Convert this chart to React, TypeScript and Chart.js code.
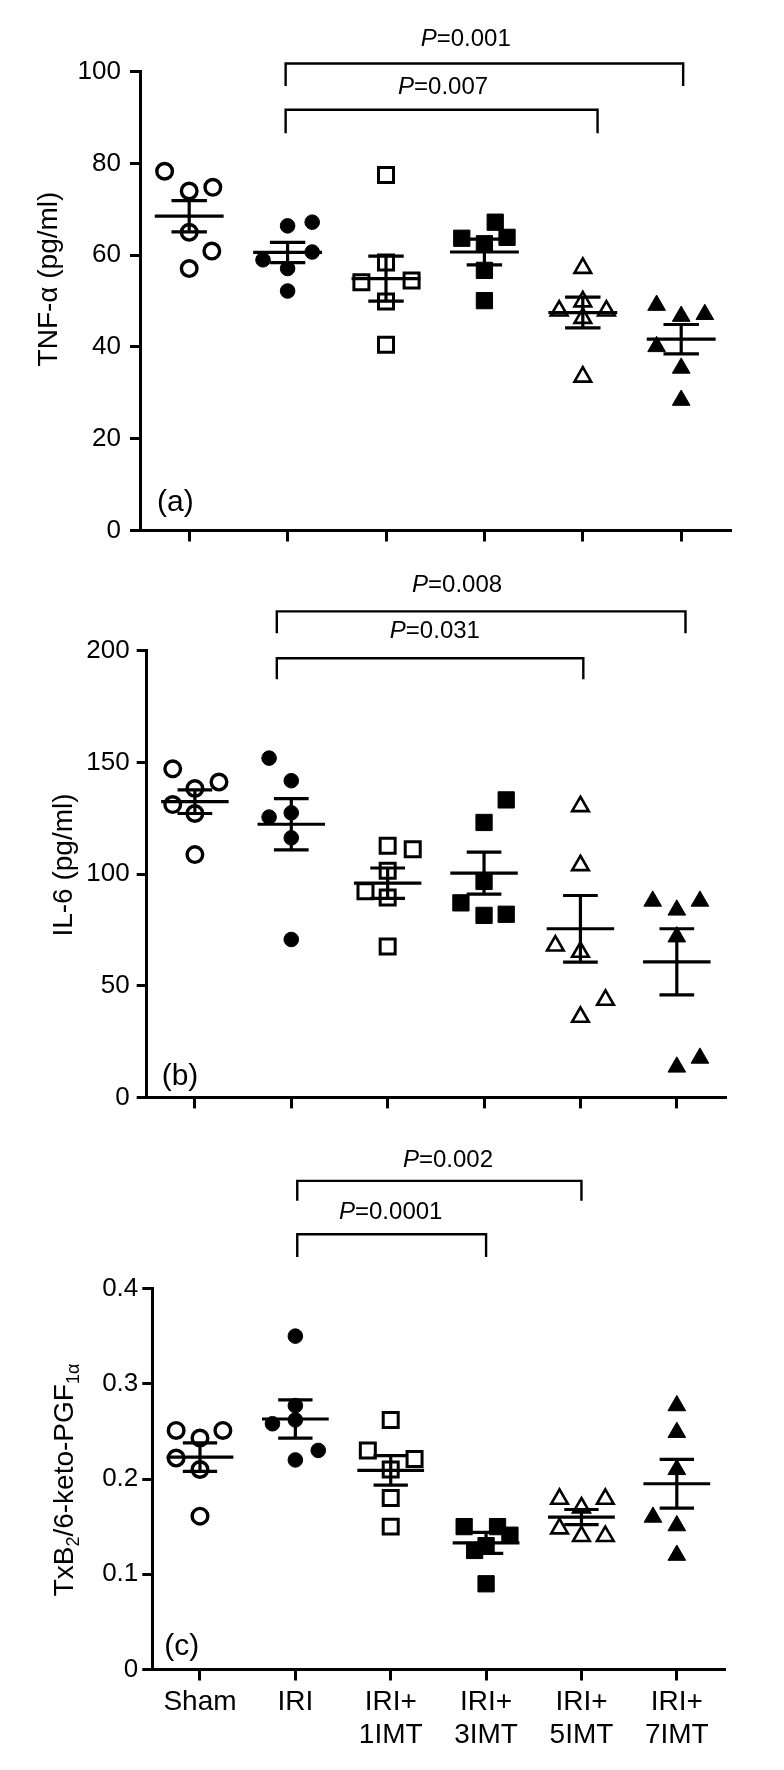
import React, { useEffect, useRef } from 'react';
import { Chart, registerables } from 'chart.js';

Chart.register(...registerables);

const FONT = '"Liberation Sans", Arial, Helvetica, sans-serif';

// ---------- shared categories ----------
const categories: string[][] = [
  ['Sham'],
  ['IRI'],
  ['IRI+', '1IMT'],
  ['IRI+', '3IMT'],
  ['IRI+', '5IMT'],
  ['IRI+', '7IMT'],
];

// ---------- panel (a) TNF-α ----------
const tnfTicks = [0, 20, 40, 60, 80, 100];
const tnfValues = [
  [78.3, 74.0, 74.8, 65.0, 60.9, 57.1],
  [66.4, 67.2, 59.0, 60.7, 57.1, 52.2],
  [77.5, 58.4, 54.1, 54.5, 49.9, 40.5],
  [63.7, 67.2, 63.9, 62.5, 56.7, 50.1],
  [57.2, 47.9, 49.9, 47.9, 46.3, 33.5],
  [49.1, 46.7, 47.1, 40.1, 35.4, 28.4],
];
const tnfJitter = [
  [-0.25, 0, 0.24, 0, 0.23, 0],
  [0, 0.25, -0.25, 0.25, 0, 0],
  [0, 0, -0.25, 0.26, 0, 0],
  [-0.23, 0.11, 0.23, 0, 0, 0],
  [0, -0.24, 0, 0.24, 0, 0],
  [-0.25, 0, 0.24, -0.25, 0, 0],
];
const tnfMeans = [68.5, 60.6, 54.9, 60.7, 47.5, 41.7];
const tnfSems = [3.4, 2.2, 4.9, 2.8, 3.35, 3.2];
const tnfBrackets = [
  { from: 0.98, to: 5.02, top: 101.8, drop: 96.9, p: '0.001', labelX: 2.81, labelY: 107.1 },
  { from: 0.98, to: 4.15, top: 91.7, drop: 86.6, p: '0.007', labelX: 2.58, labelY: 96.6 },
];

// ---------- panel (b) IL-6 ----------
const il6Ticks = [0, 50, 100, 150, 200];
const il6Values = [
  [147.1, 138.3, 141.2, 131.1, 127.1, 108.7],
  [151.9, 141.8, 125.5, 127.4, 116.2, 70.7],
  [112.7, 111.1, 101.5, 92.3, 89.5, 67.6],
  [133.2, 123.1, 96.7, 87.1, 81.5, 82.0],
  [130.3, 103.9, 67.9, 65.1, 36.0, 43.6],
  [87.9, 83.9, 87.9, 71.9, 13.6, 17.6],
];
const il6Jitter = [
  [-0.23, 0, 0.25, -0.23, 0, 0],
  [-0.23, 0, -0.23, 0, 0, 0],
  [0, 0.26, 0, -0.23, 0, 0],
  [0.23, 0, 0, -0.24, 0, 0.23],
  [0, 0, -0.26, 0, 0, 0.26],
  [-0.25, 0, 0.24, 0, 0, 0.24],
];
const il6Means = [132.4, 122.3, 95.9, 100.4, 75.5, 60.7];
const il6Sems = [5.3, 11.5, 6.8, 9.4, 14.9, 14.8];
const il6Brackets = [
  { from: 0.85, to: 5.09, top: 217.6, drop: 207.8, p: '0.008', labelX: 2.72, labelY: 229.1 },
  { from: 0.85, to: 4.03, top: 196.6, drop: 187.2, p: '0.031', labelX: 2.49, labelY: 208.6 },
];

// ---------- panel (c) TxB2/6-keto-PGF1α ----------
const txbTicks = [0, 0.1, 0.2, 0.3, 0.4];
const txbValues = [
  [0.251, 0.243, 0.251, 0.222, 0.21, 0.161],
  [0.35, 0.277, 0.258, 0.262, 0.23, 0.22],
  [0.262, 0.23, 0.221, 0.21, 0.18, 0.15],
  [0.15, 0.15, 0.141, 0.13, 0.125, 0.09],
  [0.179, 0.17, 0.179, 0.148, 0.14, 0.14],
  [0.277, 0.249, 0.21, 0.16, 0.151, 0.12],
];
const txbJitter = [
  [-0.25, 0, 0.24, -0.25, 0, 0],
  [0, 0, -0.24, 0, 0.24, 0],
  [0, -0.24, 0.25, 0, 0, 0],
  [-0.23, 0.12, 0.25, 0, -0.12, 0],
  [-0.23, 0, 0.25, -0.23, 0, 0.25],
  [0, 0, 0, -0.25, 0, 0],
];
const txbMeans = [0.223, 0.263, 0.209, 0.133, 0.16, 0.195];
const txbSems = [0.015, 0.02, 0.0155, 0.011, 0.008, 0.0255];
const txbBrackets = [
  { from: 1.02, to: 4.0, top: 0.513, drop: 0.492, p: '0.002', labelX: 2.6, labelY: 0.535 },
  { from: 1.02, to: 3.0, top: 0.457, drop: 0.433, p: '0.0001', labelX: 2.0, labelY: 0.48 },
];

// ---------- marker styles per group ----------
const markerStyles = [
  { shape: 'circle', filled: false, radius: 7.8, border: 3.4 },
  { shape: 'circle', filled: true, radius: 7.3, border: 1 },
  { shape: 'rect', filled: false, radius: 10.6, border: 3 },
  { shape: 'rect', filled: true, radius: 11.5, border: 1 },
  { shape: 'triangle', filled: false, radius: 9.6, border: 2.6 },
  { shape: 'triangle', filled: true, radius: 10.2, border: 1 },
];

type TitlePart = { text: string; sub?: boolean };

const panels = [
  {
    id: 'a', top: 0, height: 560, padTop: 71.7, padRight: 53.6, axisLeft: 140, xAxisHeight: 29.5,
    yMax: 100, yTicks: tnfTicks, values: tnfValues, jitter: tnfJitter, means: tnfMeans, sems: tnfSems,
    brackets: tnfBrackets, showCategories: false, tickPad: 9,
    title: [{ text: 'TNF-α (pg/ml)' }] as TitlePart[], titleX: 57, titleY: 279,
    letter: '(a)', letterDX: 17, letterDY: 27.5,
  },
  {
    id: 'b', top: 560, height: 560, padTop: 90.7, padRight: 59, axisLeft: 146.7, xAxisHeight: 22.5,
    yMax: 200, yTicks: il6Ticks, values: il6Values, jitter: il6Jitter, means: il6Means, sems: il6Sems,
    brackets: il6Brackets, showCategories: false, tickPad: 7,
    title: [{ text: 'IL-6 (pg/ml)' }] as TitlePart[], titleX: 72, titleY: 305,
    letter: '(b)', letterDX: 15, letterDY: 21,
  },
  {
    id: 'c', top: 1120, height: 650, padTop: 168.5, padRight: 59.5, axisLeft: 152.3, xAxisHeight: 100.5,
    yMax: 0.4, yTicks: txbTicks, values: txbValues, jitter: txbJitter, means: txbMeans, sems: txbSems,
    brackets: txbBrackets, showCategories: true, tickPad: 4,
    title: [
      { text: 'TxB' }, { text: '2', sub: true }, { text: '/6-keto-PGF' }, { text: '1α', sub: true },
    ] as TitlePart[], titleX: 73, titleY: 360,
    letter: '(c)', letterDX: 12, letterDY: 22.5,
  },
];

function decorPlugin(p: any) {
  return {
    id: 'decor_' + p.id,
    afterDatasetsDraw(chart: any) {
      const ctx = chart.ctx;
      const x = chart.scales.x;
      const y = chart.scales.y;
      const area = chart.chartArea;
      ctx.save();
      ctx.strokeStyle = '#000';
      ctx.fillStyle = '#000';
      ctx.lineCap = 'butt';

      // mean ± SEM
      ctx.lineWidth = 3.2;
      p.means.forEach((m: number, i: number) => {
        const s = p.sems[i];
        const yc = y.getPixelForValue(m);
        const yt = y.getPixelForValue(m + s);
        const yb = y.getPixelForValue(m - s);
        const xl = x.getPixelForValue(i - 0.35);
        const xr = x.getPixelForValue(i + 0.35);
        const cl = x.getPixelForValue(i - 0.18);
        const cr = x.getPixelForValue(i + 0.18);
        const xc = x.getPixelForValue(i);
        ctx.beginPath();
        ctx.moveTo(xl, yc); ctx.lineTo(xr, yc);
        ctx.moveTo(cl, yt); ctx.lineTo(cr, yt);
        ctx.moveTo(cl, yb); ctx.lineTo(cr, yb);
        ctx.moveTo(xc, yt); ctx.lineTo(xc, yb);
        ctx.stroke();
      });

      // significance brackets
      ctx.lineWidth = 2.4;
      ctx.lineJoin = 'miter';
      p.brackets.forEach((b: any) => {
        const x1 = x.getPixelForValue(b.from);
        const x2 = x.getPixelForValue(b.to);
        const yt = y.getPixelForValue(b.top);
        const yd = y.getPixelForValue(b.drop);
        ctx.beginPath();
        ctx.moveTo(x1, yd); ctx.lineTo(x1, yt); ctx.lineTo(x2, yt); ctx.lineTo(x2, yd);
        ctx.stroke();
        const tx = x.getPixelForValue(b.labelX);
        const ty = y.getPixelForValue(b.labelY);
        ctx.textBaseline = 'middle';
        ctx.textAlign = 'left';
        ctx.font = `italic 24px ${FONT}`;
        const wP = ctx.measureText('P').width;
        ctx.font = `24px ${FONT}`;
        const rest = '=' + b.p;
        const wR = ctx.measureText(rest).width;
        const sx = tx - (wP + wR) / 2;
        ctx.font = `italic 24px ${FONT}`;
        ctx.fillText('P', sx, ty);
        ctx.font = `24px ${FONT}`;
        ctx.fillText(rest, sx + wP, ty);
      });

      // y-axis title (rotated, with subscripts)
      ctx.save();
      ctx.translate(p.titleX, p.titleY);
      ctx.rotate(-Math.PI / 2);
      ctx.textBaseline = 'alphabetic';
      ctx.textAlign = 'left';
      const mainFont = `28px ${FONT}`;
      const subFont = `18px ${FONT}`;
      let total = 0;
      p.title.forEach((pt: TitlePart) => {
        ctx.font = pt.sub ? subFont : mainFont;
        total += ctx.measureText(pt.text).width;
      });
      let cx = -total / 2;
      p.title.forEach((pt: TitlePart) => {
        ctx.font = pt.sub ? subFont : mainFont;
        ctx.fillText(pt.text, cx, pt.sub ? 6 : 0);
        cx += ctx.measureText(pt.text).width;
      });
      ctx.restore();

      // panel letter
      ctx.font = `30px ${FONT}`;
      ctx.textBaseline = 'middle';
      ctx.textAlign = 'left';
      ctx.fillText(p.letter, area.left + p.letterDX, area.bottom - p.letterDY);

      ctx.restore();
    },
  };
}

function makeConfig(p: any): any {
  const datasets = p.values.map((vals: number[], gi: number) => {
    const st = markerStyles[gi];
    return {
      data: vals.map((v, k) => ({ x: gi + p.jitter[gi][k], y: v })),
      pointStyle: st.shape,
      pointRadius: st.radius,
      pointHoverRadius: st.radius,
      pointBorderWidth: st.border,
      pointHoverBorderWidth: st.border,
      pointBackgroundColor: st.filled ? '#000' : '#fff',
      pointBorderColor: '#000',
      showLine: false,
      clip: false,
    };
  });
  const axisCommon = {
    border: { display: true, width: 3, color: '#000' },
  };
  return {
    type: 'scatter',
    data: { datasets },
    options: {
      responsive: false,
      animation: false,
      devicePixelRatio: 1,
      events: [],
      layout: { padding: { top: p.padTop, right: p.padRight, left: 0, bottom: 0 } },
      plugins: {
        legend: { display: false },
        tooltip: { enabled: false },
        title: { display: false },
      },
      scales: {
        x: {
          ...axisCommon,
          type: 'linear',
          min: -0.5,
          max: 5.5,
          afterBuildTicks: (axis: any) => {
            axis.ticks = categories.map((_, i) => ({ value: i }));
          },
          afterFit: (s: any) => {
            s.height = p.xAxisHeight;
          },
          ticks: {
            autoSkip: false,
            maxRotation: 0,
            minRotation: 0,
            padding: 5,
            color: '#000',
            font: { family: FONT, size: 28, lineHeight: 1.18 },
            callback: (v: number) => (p.showCategories ? categories[v] : ''),
          },
          grid: {
            drawOnChartArea: false,
            drawTicks: true,
            tickLength: 11,
            lineWidth: 3,
            color: '#000',
          },
        },
        y: {
          ...axisCommon,
          type: 'linear',
          min: 0,
          max: p.yMax,
          afterBuildTicks: (axis: any) => {
            axis.ticks = p.yTicks.map((v: number) => ({ value: v }));
          },
          afterFit: (s: any) => {
            s.width = p.axisLeft;
          },
          ticks: {
            padding: p.tickPad,
            color: '#000',
            font: { family: FONT, size: 26 },
            callback: (v: number) => String(v),
          },
          grid: {
            drawOnChartArea: false,
            drawTicks: true,
            tickLength: 10,
            lineWidth: 3,
            color: '#000',
          },
        },
      },
    },
    plugins: [decorPlugin(p)],
  };
}

function Panel({ spec }: { spec: any }) {
  const ref = useRef<HTMLCanvasElement>(null);
  useEffect(() => {
    const canvas = ref.current;
    if (!canvas) return;
    const chart = new Chart(canvas, makeConfig(spec));
    return () => chart.destroy();
  }, [spec]);
  return (
    <canvas
      ref={ref}
      width={784}
      height={spec.height}
      style={{ position: 'absolute', left: 0, top: spec.top, width: 784, height: spec.height, display: 'block' }}
    />
  );
}

export default function App() {
  return (
    <div
      style={{
        position: 'absolute',
        left: 0,
        top: 0,
        width: 784,
        height: 1770,
        background: '#fff',
        overflow: 'hidden',
      }}
    >
      {panels.map((p) => (
        <Panel key={p.id} spec={p} />
      ))}
    </div>
  );
}
